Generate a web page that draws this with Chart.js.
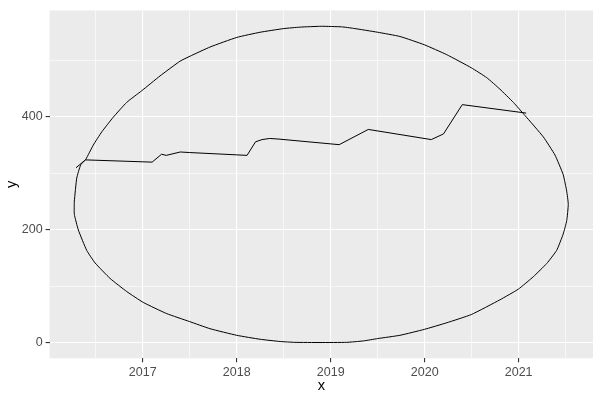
<!DOCTYPE html>
<html>
<head>
<meta charset="utf-8">
<script src="https://cdn.jsdelivr.net/npm/chart.js@4/dist/chart.umd.min.js"></script>
<style>
  html, body { margin: 0; padding: 0; background: #fff; }
  canvas { display: block; }
</style>
</head>
<body>
<canvas id="plot" width="600" height="400"></canvas>
<script>
// series line (decimal years)
const lineX = [2016.29, 2016.39, 2017.10, 2017.20, 2017.25, 2017.40, 2017.50, 2018.11, 2018.20,
    2018.27, 2018.35, 2018.44, 2019.09, 2019.40, 2020.07, 2020.20, 2020.40, 2021.08];
const lineY = [310, 324, 320, 334, 332, 338, 337, 332, 356, 360, 362, 361, 351, 378, 360, 370, 422, 407];

// ellipse outline, traced round the picture
const ellipseX = [2016.272, 2016.298, 2016.340, 2016.394, 2016.474, 2016.564, 2016.687, 2016.830, 2016.989,
    2017.184, 2017.397, 2017.503, 2017.716, 2018.000, 2018.248, 2018.500, 2018.673, 2018.900, 2019.117,
    2019.240, 2019.500, 2019.737, 2019.996, 2020.234, 2020.496, 2020.660, 2020.801, 2020.943, 2021.067,
    2021.262, 2021.386, 2021.474, 2021.511, 2021.528, 2021.511, 2021.474, 2021.404, 2021.298, 2021.155,
    2020.996, 2020.801, 2020.496, 2020.234, 2019.996, 2019.737, 2019.500, 2019.347, 2019.170, 2018.886,
    2018.620, 2018.461, 2018.248, 2018.000, 2017.716, 2017.496, 2017.255, 2017.006, 2016.830, 2016.652,
    2016.493, 2016.404, 2016.315, 2016.272, 2016.272];
const ellipseY = [251.0, 291.8, 315.2, 325.0, 350.3, 373.6, 399.8, 426.1, 446.6,
    472.9, 499.1, 507.9, 524.2, 541.2, 550.4, 556.9, 559.5, 561.0, 560.0,
    557.4, 550.4, 542.9, 528.2, 510.7, 487.4, 469.9, 449.4, 426.1, 402.8,
    364.8, 332.7, 297.7, 268.5, 245.2, 215.9, 192.6, 163.4, 140.1, 116.6,
    94.6, 75.8, 49.6, 35.0, 23.3, 12.8, 7.0, 2.8, 0.3, 0.0,
    0.3, 1.8, 5.8, 12.8, 24.5, 37.3, 51.3, 71.1, 90.4, 113.8,
    141.2, 163.4, 199.6, 227.7, 251.0];

const xBreaks = [2017, 2018, 2019, 2020, 2021];
const xMinor = [2016.5, 2017.5, 2018.5, 2019.5, 2020.5, 2021.5];
const yBreaks = [0, 200, 400];
const yMinor = [100, 300, 500];

const toPoints = (xs, ys) => xs.map((x, i) => ({ x: x, y: ys[i] }));

const panelBg = {
    id: 'panelBg',
    beforeDraw(chart) {
        const a = chart.chartArea;
        const c = chart.ctx;
        c.save();
        c.fillStyle = '#EBEBEB';
        c.fillRect(a.left, a.top, a.right - a.left, a.bottom - a.top);
        c.restore();
    }
};

function gridFor(major) {
    return {
        color: '#FFFFFF',
        lineWidth: ctx => (ctx.tick && major.includes(ctx.tick.value)) ? 1.1 : 0.6,
        tickColor: ctx => (ctx.tick && major.includes(ctx.tick.value)) ? '#333333' : 'rgba(0,0,0,0)',
        tickLength: 4,
        tickWidth: 1.1,
        drawTicks: true
    };
}

const tickFont = { family: 'Liberation Sans', size: 12.5 };
const titleFont = { family: 'Liberation Sans', size: 14.67 };

new Chart(document.getElementById('plot').getContext('2d'), {
    type: 'scatter',
    data: {
        datasets: [
            { data: toPoints(ellipseX, ellipseY), showLine: true, borderColor: '#000', borderWidth: 1,
              pointRadius: 0, tension: 0.15, fill: false },
            { data: toPoints(lineX, lineY), showLine: true, borderColor: '#000', borderWidth: 1,
              pointRadius: 0, tension: 0, fill: false }
        ]
    },
    options: {
        responsive: false,
        animation: false,
        devicePixelRatio: 1,
        layout: { padding: { top: 6.7, right: 7, left: 0, bottom: 0 } },
        plugins: { legend: { display: false }, tooltip: { enabled: false } },
        scales: {
            x: {
                type: 'linear',
                min: 2016.009,
                max: 2021.791,
                border: { display: false },
                grid: gridFor(xBreaks),
                afterBuildTicks: s => { s.ticks = xBreaks.concat(xMinor).sort((a, b) => a - b).map(v => ({ value: v })); },
                afterFit: s => { s.height = 41.7; },
                ticks: {
                    autoSkip: false, maxRotation: 0, padding: 3, color: '#4D4D4D', font: tickFont,
                    callback: v => xBreaks.includes(v) ? String(v) : ''
                },
                title: { display: true, text: 'x', color: '#000', font: titleFont, padding: { top: 0, bottom: 5 } }
            },
            y: {
                type: 'linear',
                min: -28,
                max: 589,
                border: { display: false },
                grid: gridFor(yBreaks),
                afterBuildTicks: s => { s.ticks = yBreaks.concat(yMinor).sort((a, b) => a - b).map(v => ({ value: v })); },
                afterFit: s => { s.width = 49.6; },
                ticks: {
                    autoSkip: false, padding: 3, color: '#4D4D4D', font: tickFont,
                    callback: v => yBreaks.includes(v) ? String(v) : ''
                },
                title: { display: true, text: 'y', color: '#000', font: titleFont, padding: { top: 3, bottom: 3 } }
            }
        }
    },
    plugins: [panelBg]
});
</script>
</body>
</html>
